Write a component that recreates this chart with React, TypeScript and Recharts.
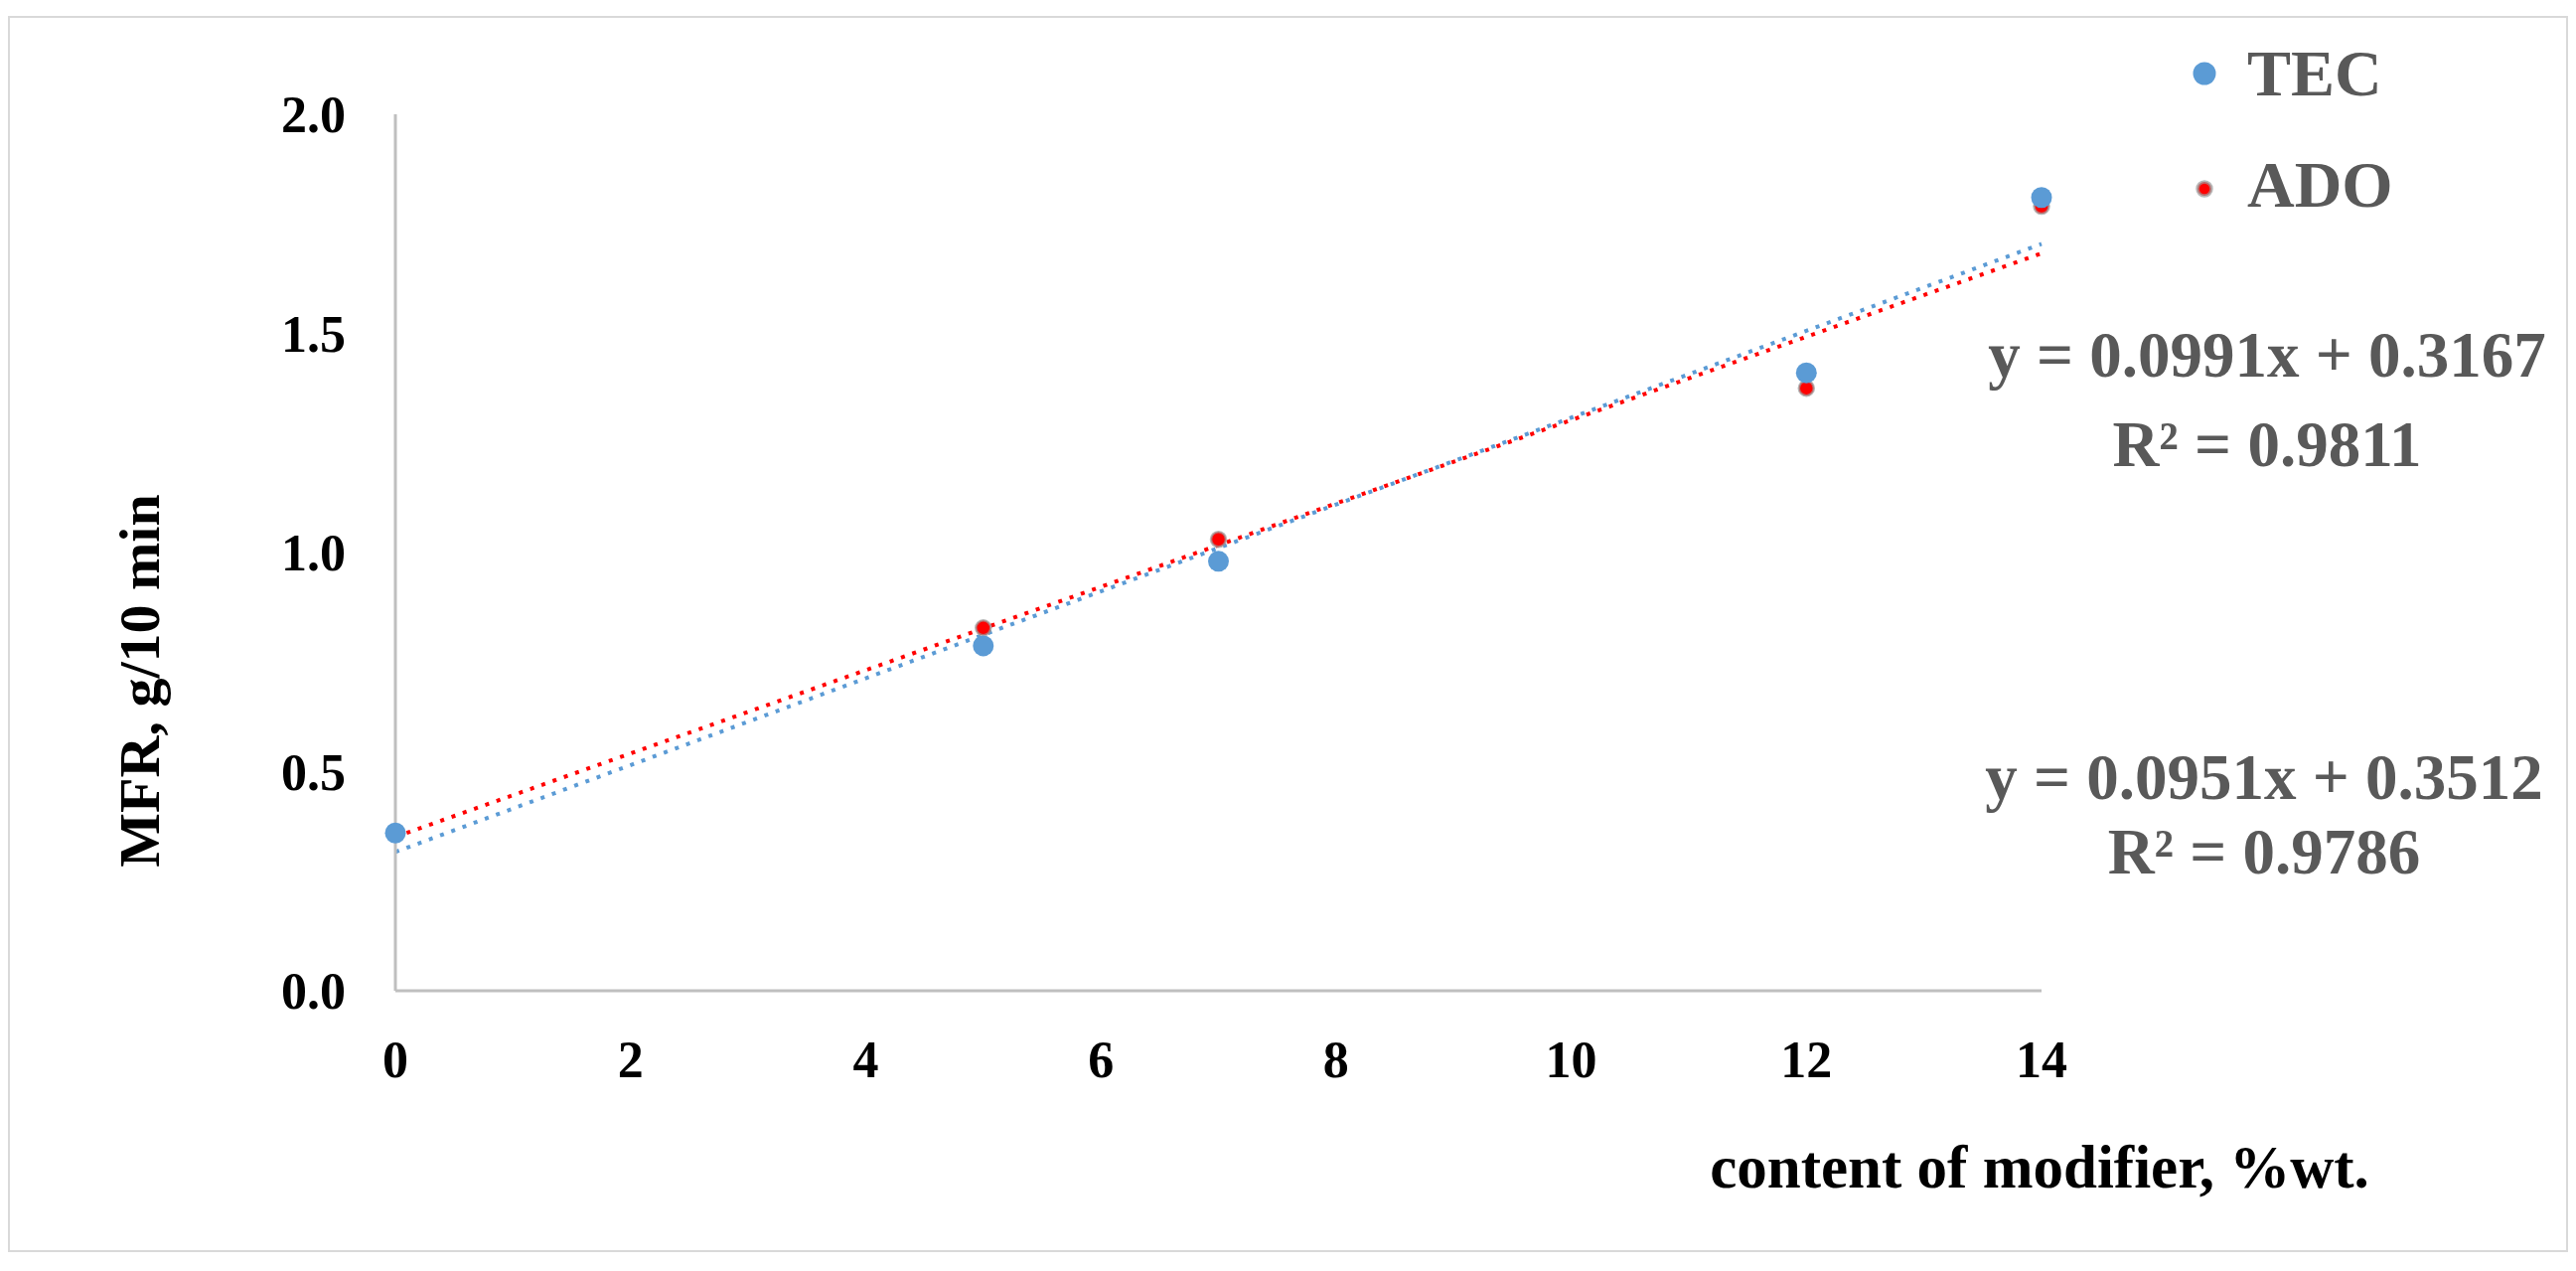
import { ScatterChart, Scatter, XAxis, YAxis, ReferenceLine } from 'recharts';

const xValues = [0, 5, 7, 12, 14];
const tecValues = [0.36, 0.787, 0.98, 1.41, 1.81];
const adoValues = [0.36, 0.828, 1.03, 1.375, 1.79];

const xTicks = [0, 2, 4, 6, 8, 10, 12, 14];
const yTicks = [0, 0.5, 1.0, 1.5, 2.0];

// linear trendlines as printed on the figure
const fitSlopes = [0.0991, 0.0951];
const fitIntercepts = [0.3167, 0.3512];
const fitR2 = [0.9811, 0.9786];

const seriesNames = ['TEC', 'ADO'];

const SERIF = "'Liberation Serif', 'Times New Roman', serif";
const BLUE = '#5B9BD5';
const RED = '#FF0000';
const LABEL_GRAY = '#595959';

const W = 2573;
const H = 1240;

const tecDot = (p: any) => <circle cx={p.cx} cy={p.cy} r={10.5} fill={BLUE} />;
const adoDot = (p: any) => (
  <circle cx={p.cx} cy={p.cy} r={7.5} fill={RED} stroke="#9a9a9a" strokeOpacity={0.7} strokeWidth={2.5} />
);

export default function App() {
  const tecData = xValues.map((x, i) => ({ x, y: tecValues[i] }));
  const adoData = xValues.map((x, i) => ({ x, y: adoValues[i] }));
  const xMax = xTicks[xTicks.length - 1];

  const trend = (k: number) => [
    { x: 0, y: fitIntercepts[k] },
    { x: xMax, y: fitSlopes[k] * xMax + fitIntercepts[k] },
  ];

  const eq = (k: number) => `y = ${fitSlopes[k].toFixed(4)}x + ${fitIntercepts[k].toFixed(4)}`;
  const r2 = (k: number) => `R² = ${fitR2[k].toFixed(4)}`;

  const tickStyle = { fill: '#000', fontSize: 52, fontWeight: 700, fontFamily: SERIF };

  return (
    <div style={{ paddingTop: 8 }}>
      <div
        style={{
          position: 'relative',
          width: W,
          height: H,
          border: '2px solid #d9d9d9',
          background: '#fff',
        }}
      >
        <ScatterChart width={W} height={H} margin={{ top: 97, right: 528, bottom: 161, left: 288 }}>
          <XAxis
            type="number"
            dataKey="x"
            domain={[0, xMax]}
            ticks={xTicks}
            height={100}
            tickLine={false}
            tickSize={0}
            tickMargin={50}
            axisLine={{ stroke: '#BFBFBF', strokeWidth: 3 }}
            tick={tickStyle}
          />
          <YAxis
            type="number"
            dataKey="y"
            domain={[0, 2]}
            ticks={yTicks}
            width={100}
            tickLine={false}
            tickSize={0}
            tickMargin={50}
            tickFormatter={(v: number) => v.toFixed(1)}
            axisLine={{ stroke: '#BFBFBF', strokeWidth: 3 }}
            tick={tickStyle}
          />
          <ReferenceLine segment={trend(0)} stroke={BLUE} strokeWidth={4} strokeDasharray="4 8" />
          <ReferenceLine segment={trend(1)} stroke={RED} strokeWidth={4} strokeDasharray="4 8" />
          <Scatter name={seriesNames[1]} data={adoData} shape={adoDot} isAnimationActive={false} />
          <Scatter name={seriesNames[0]} data={tecData} shape={tecDot} isAnimationActive={false} />
        </ScatterChart>

        <svg
          width={W}
          height={H}
          style={{ position: 'absolute', left: 0, top: 0, pointerEvents: 'none' }}
          fontFamily={SERIF}
          fontWeight={700}
        >
          {/* axis titles */}
          <text x={150} y={667} transform="rotate(-90 150 667)" textAnchor="middle" fontSize={58} fill="#000">
            MFR, g/10 min
          </text>
          <text x={2043} y={1177} textAnchor="middle" fontSize={61} fill="#000">
            content of modifier, %wt.
          </text>

          {/* legend */}
          <circle cx={2209} cy={56} r={11.5} fill={BLUE} />
          <text x={2252} y={78} fontSize={66} fill={LABEL_GRAY}>
            {seriesNames[0]}
          </text>
          <circle cx={2209} cy={172} r={7} fill={RED} stroke="#9a9a9a" strokeOpacity={0.7} strokeWidth={3.5} />
          <text x={2252} y={190} fontSize={66} fill={LABEL_GRAY}>
            {seriesNames[1]}
          </text>

          {/* trendline equations */}
          <text x={2272} y={361} textAnchor="middle" fontSize={65} fill={LABEL_GRAY}>
            {eq(0)}
          </text>
          <text x={2272} y={451} textAnchor="middle" fontSize={65} fill={LABEL_GRAY}>
            {r2(0)}
          </text>
          <text x={2269} y={786} textAnchor="middle" fontSize={65} fill={LABEL_GRAY}>
            {eq(1)}
          </text>
          <text x={2269} y={861} textAnchor="middle" fontSize={65} fill={LABEL_GRAY}>
            {r2(1)}
          </text>
        </svg>
      </div>
    </div>
  );
}
